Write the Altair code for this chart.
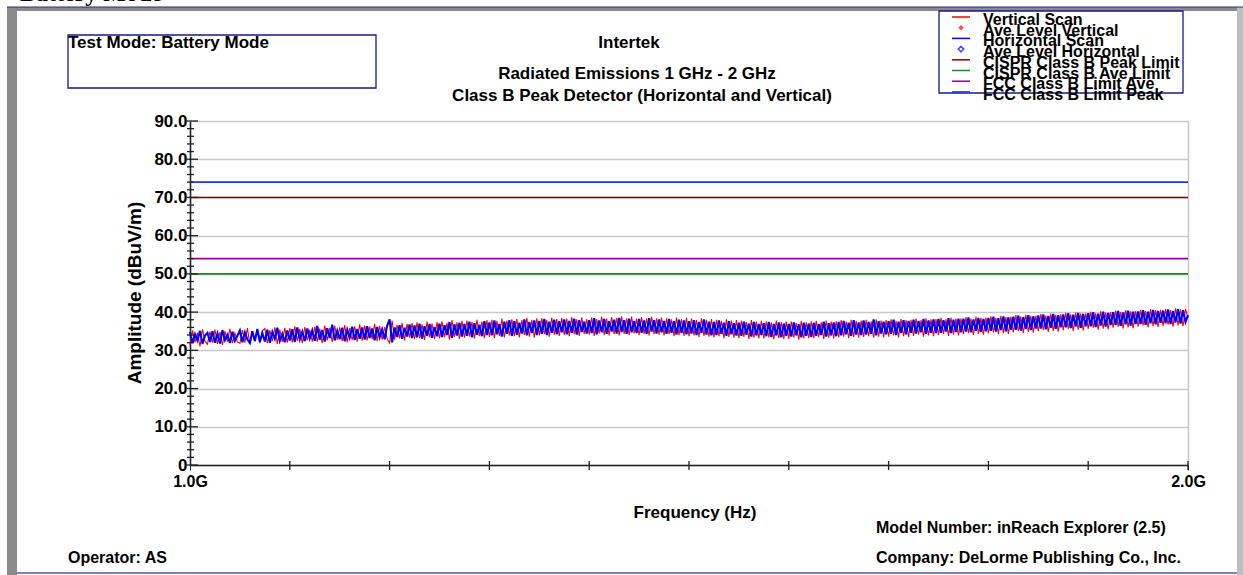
import altair as alt
import pandas as pd

# ---------------- data ----------------
freq_ghz = [round(1.0 + i * 0.0025, 4) for i in range(401)]  # sweep 1 GHz - 2 GHz

vertical_scan = [
    31.3, 35.2, 32.1, 34.6, 31.0, 35.5, 32.4, 31.6, 34.9, 32.0,
    35.4, 31.7, 34.8, 31.4, 35.0, 32.3, 35.6, 31.9, 34.5, 32.2,
    31.8, 35.3, 32.0, 35.8, 31.6, 34.9, 32.5, 35.5, 31.9, 35.1,
    35.7, 31.9, 35.2, 32.4, 36.0, 31.7, 35.4, 32.2, 35.9, 32.0,
    35.8, 32.1, 36.3, 32.5, 35.6, 31.9, 36.1, 32.6, 35.4, 32.3,
    36.2, 32.3, 35.7, 31.9, 36.5, 32.6, 35.9, 32.2, 36.4, 32.8,
    36.0, 32.4, 36.6, 32.1, 35.8, 32.7, 36.3, 32.3, 36.8, 32.5,
    36.5, 32.6, 36.2, 32.9, 36.9, 32.4, 36.4, 32.8, 36.1, 33.0,
    31.9, 37.8, 32.8, 36.7, 33.1, 37.2, 32.6, 36.9, 33.3, 37.1,
    32.9, 37.3, 33.2, 36.8, 32.7, 37.5, 33.4, 37.0, 32.9, 37.4,
    33.1, 37.6, 33.4, 37.2, 32.8, 37.9, 33.5, 37.3, 33.0, 37.7,
    33.3, 37.8, 33.6, 37.4, 33.1, 38.0, 33.7, 37.5, 33.2, 37.9,
    33.5, 38.0, 33.2, 37.7, 33.8, 38.3, 33.4, 37.8, 33.9, 38.1,
    33.7, 38.2, 33.4, 37.9, 34.0, 38.5, 33.6, 38.0, 33.3, 38.4,
    33.9, 38.4, 34.2, 38.0, 33.6, 38.6, 34.1, 38.2, 33.8, 38.5,
    34.0, 38.3, 33.7, 38.7, 34.2, 38.1, 33.8, 38.6, 34.3, 38.2,
    34.1, 38.6, 33.8, 38.2, 34.4, 38.8, 34.0, 38.3, 33.9, 38.7,
    34.2, 38.5, 33.9, 38.9, 34.3, 38.4, 34.0, 38.8, 34.4, 38.3,
    34.0, 38.7, 34.3, 38.3, 33.9, 38.8, 34.2, 38.4, 34.1, 38.6,
    33.9, 38.4, 34.2, 38.1, 33.7, 38.6, 34.0, 38.2, 33.8, 38.5,
    33.7, 38.3, 33.9, 37.9, 33.5, 38.4, 33.8, 38.0, 33.6, 38.2,
    33.4, 38.0, 33.7, 37.7, 33.2, 38.1, 33.5, 37.8, 33.3, 37.9,
    33.2, 37.8, 33.5, 37.4, 33.0, 37.9, 33.3, 37.5, 33.1, 37.7,
    33.1, 37.6, 33.4, 37.3, 32.9, 37.8, 33.2, 37.4, 33.0, 37.5,
    33.0, 37.5, 33.3, 37.2, 32.8, 37.7, 33.1, 37.3, 33.2, 37.6,
    33.2, 37.7, 33.4, 37.3, 33.0, 37.8, 33.3, 37.5, 33.1, 37.6,
    33.4, 37.9, 33.6, 37.5, 33.2, 38.0, 33.5, 37.7, 33.3, 37.8,
    33.5, 38.0, 33.7, 37.6, 33.3, 38.1, 33.6, 37.8, 33.4, 37.9,
    33.6, 38.1, 33.9, 37.7, 33.4, 38.2, 33.7, 37.9, 33.5, 38.0,
    33.8, 38.3, 34.1, 37.9, 33.6, 38.4, 33.9, 38.1, 33.7, 38.2,
    34.0, 38.5, 34.3, 38.1, 33.8, 38.6, 34.1, 38.3, 33.9, 38.4,
    34.2, 38.7, 34.5, 38.3, 34.0, 38.8, 34.3, 38.5, 34.1, 38.6,
    34.4, 38.9, 34.7, 38.5, 34.2, 39.0, 34.5, 38.7, 34.3, 38.8,
    34.7, 39.2, 35.0, 38.8, 34.5, 39.3, 34.8, 39.0, 34.6, 39.1,
    35.0, 39.5, 35.3, 39.1, 34.8, 39.6, 35.1, 39.3, 34.9, 39.4,
    35.3, 39.8, 35.6, 39.4, 35.1, 39.9, 35.4, 39.6, 35.2, 39.7,
    35.6, 40.1, 35.9, 39.7, 35.4, 40.2, 35.7, 39.9, 35.5, 40.0,
    35.9, 40.4, 36.2, 40.0, 35.7, 40.5, 36.0, 40.2, 35.8, 40.3,
    36.2, 40.6, 36.5, 40.3, 36.0, 40.8, 36.3, 40.5, 36.1, 40.6,
    36.4, 40.8, 36.7, 40.5, 36.2, 41.0, 36.5, 40.7, 36.3, 40.8,
    38.4,
]

horizontal_scan = [
    34.8, 31.9, 34.2, 32.6, 35.1, 31.7, 33.9, 34.6, 32.2, 35.0,
    32.0, 34.4, 31.8, 35.3, 32.7, 34.1, 31.9, 34.9, 32.5, 33.8,
    35.2, 32.1, 34.7, 32.8, 31.9, 35.0, 32.4, 35.6, 32.2, 34.5,
    32.3, 35.4, 32.0, 34.8, 33.0, 35.9, 32.5, 34.3, 32.1, 35.2,
    32.6, 35.5, 32.2, 36.0, 32.9, 34.9, 32.4, 35.7, 33.1, 35.2,
    32.5, 36.4, 32.8, 35.3, 32.3, 35.8, 33.2, 36.7, 32.6, 35.1,
    32.9, 35.9, 32.4, 35.4, 33.3, 36.2, 32.7, 35.6, 33.0, 36.0,
    32.8, 36.3, 33.2, 35.7, 32.6, 36.1, 33.4, 35.5, 32.9, 36.4,
    38.1, 32.1, 36.0, 33.5, 36.6, 33.0, 35.9, 33.6, 36.8, 33.2,
    36.5, 33.4, 37.0, 33.1, 36.3, 33.8, 36.9, 33.3, 36.1, 33.7,
    37.0, 33.5, 36.6, 34.0, 37.4, 33.3, 36.8, 33.9, 37.2, 33.6,
    36.9, 33.8, 37.5, 33.4, 37.1, 34.1, 36.7, 33.7, 37.6, 34.0,
    37.3, 33.9, 37.8, 34.2, 36.9, 33.6, 37.5, 34.3, 37.9, 33.8,
    37.6, 34.1, 37.2, 34.4, 38.1, 33.9, 37.4, 34.5, 37.8, 34.0,
    37.7, 34.3, 38.2, 34.0, 37.5, 34.6, 38.0, 34.2, 37.6, 34.7,
    38.1, 34.2, 37.7, 34.6, 38.3, 34.1, 37.9, 34.8, 37.5, 34.4,
    37.9, 34.5, 38.4, 34.2, 37.8, 34.7, 38.2, 34.3, 37.6, 34.9,
    38.0, 34.4, 38.5, 34.8, 37.9, 34.3, 38.3, 34.7, 37.7, 34.5,
    38.2, 34.6, 37.8, 34.3, 38.4, 34.9, 37.9, 34.4, 38.1, 34.7,
    37.7, 34.3, 38.2, 34.6, 37.6, 34.1, 38.0, 34.5, 37.8, 34.2,
    37.6, 34.4, 37.9, 34.0, 37.4, 34.5, 38.1, 34.1, 37.5, 33.9,
    37.4, 34.0, 37.8, 34.3, 37.2, 33.8, 37.6, 34.2, 37.1, 33.9,
    37.2, 33.8, 37.5, 34.1, 37.0, 33.6, 37.4, 33.9, 36.9, 34.0,
    37.1, 33.7, 37.4, 33.5, 36.9, 33.9, 37.3, 33.4, 37.0, 33.8,
    36.9, 33.6, 37.3, 33.9, 36.8, 33.4, 37.2, 33.8, 37.0, 33.5,
    37.2, 33.8, 36.9, 34.0, 37.5, 33.6, 37.1, 33.9, 37.3, 33.7,
    37.4, 33.9, 37.7, 34.2, 37.2, 33.8, 37.9, 34.1, 37.3, 34.0,
    37.8, 34.1, 37.4, 34.3, 38.1, 33.9, 37.6, 34.4, 37.5, 34.2,
    37.6, 34.3, 38.0, 34.0, 37.5, 34.5, 37.9, 34.2, 37.7, 34.6,
    38.0, 34.4, 37.7, 34.7, 38.2, 34.3, 37.8, 34.6, 38.1, 34.5,
    38.2, 34.6, 37.9, 34.9, 38.4, 34.5, 38.0, 34.8, 38.3, 34.7,
    38.3, 34.9, 38.6, 34.7, 38.1, 35.1, 38.5, 34.8, 38.2, 35.0,
    38.5, 35.1, 38.8, 34.9, 38.4, 35.3, 38.9, 35.0, 38.6, 35.4,
    38.8, 35.4, 39.1, 35.2, 38.7, 35.6, 39.2, 35.3, 38.9, 35.7,
    39.1, 35.7, 39.4, 35.5, 39.0, 35.9, 39.5, 35.6, 39.2, 36.0,
    39.4, 36.0, 39.7, 35.8, 39.3, 36.2, 39.8, 35.9, 39.5, 36.3,
    39.7, 36.3, 40.0, 36.1, 39.6, 36.5, 40.1, 36.2, 39.8, 36.6,
    40.0, 36.6, 40.3, 36.4, 39.9, 36.8, 40.4, 36.5, 40.1, 36.9,
    40.2, 36.9, 40.5, 36.7, 40.1, 37.1, 40.6, 36.8, 40.3, 37.2,
    40.4, 37.1, 40.7, 36.9, 40.3, 37.3, 40.8, 37.0, 40.5, 37.4,
    39.2,
]

limit_names = ["FCC Class B Limit Peak", "CISPR Class B Peak Limit",
               "FCC Class B Limit Ave", "CISPR Class B Ave Limit"]
limit_values = [74, 70, 54, 50]
limit_colors = ["#2233EE", "#8B0000", "#990099", "#1E8B1E"]

y_major = [0, 10, 20, 30, 40, 50, 60, 70, 80, 90]
y_minor = [v for v in range(0, 91, 2) if v % 10 != 0]
x_minor = [1.1, 1.2, 1.3, 1.4, 1.5, 1.6, 1.7, 1.8, 1.9, 2.0]

legend_labels = ["Vertical Scan", "Ave Level Vertical", "Horizontal Scan",
                 "Ave Level Horizontal", "CISPR Class B Peak Limit",
                 "CISPR Class B Ave Limit", "FCC Class B Limit Ave",
                 "FCC Class B Limit Peak"]
legend_symbols = ["line", "diamond", "line", "hollow", "line", "line", "line", "line"]
legend_colors = ["#FF0000", "#FF0000", "#0000FF", "#0000FF",
                 "#8B0000", "#1E8B1E", "#990099", "#2233EE"]

# ---------------- layout ----------------
L, T = 190, 121          # plot-area origin in page pixels
W, H = 998, 344          # plot-area size
FONT = "Liberation Sans"

one = pd.DataFrame({"k": [0]})


def px(X):
    return X - L


def py(Y):
    return Y - T


def text(s, X, Y, size=16, align="left", baseline="alphabetic",
         font=FONT, weight="bold", angle=0, color="black"):
    return alt.Chart(one).mark_text(
        text=s, align=align, baseline=baseline, font=font, fontSize=size,
        fontWeight=weight, angle=angle, color=color
    ).encode(x=alt.value(px(X)), y=alt.value(py(Y)))


def rect(X1, Y1, X2, Y2, fill=None, stroke=None, sw=1.0):
    kw = {}
    if fill is not None:
        kw["fill"] = fill
    else:
        kw["fillOpacity"] = 0
    if stroke is not None:
        kw["stroke"] = stroke
        kw["strokeWidth"] = sw
    return alt.Chart(one).mark_rect(**kw).encode(
        x=alt.value(px(X1)), x2=alt.value(px(X2)),
        y=alt.value(py(Y1)), y2=alt.value(py(Y2)))


def hline(X1, X2, Y, color, sw=1.5):
    return alt.Chart(one).mark_rule(color=color, strokeWidth=sw).encode(
        x=alt.value(px(X1)), x2=alt.value(px(X2)), y=alt.value(py(Y)))


xscale = alt.Scale(domain=[1.0, 2.0], nice=False, zero=False)
yscale = alt.Scale(domain=[0, 90], nice=False)

xaxis = alt.Axis(values=[1.0, 2.0], title=None,
                 labelExpr="format(datum.value, '.1f') + 'G'",
                 labelFont=FONT, labelFontSize=16, labelFontWeight="bold",
                 labelColor="black", labelPadding=3, labelFlush=False,
                 tickSize=5, tickColor="#222", domainColor="#222",
                 domainWidth=1.5, grid=True, gridColor="#C8C8C8", gridWidth=1.5)
yaxis = alt.Axis(values=y_major, title=None,
                 labelExpr="datum.value == 0 ? '0' : format(datum.value, '.1f')",
                 labelFont=FONT, labelFontSize=17, labelFontWeight="bold",
                 labelColor="black", labelPadding=3, ticks=False,
                 domainColor="#222", domainWidth=1.5,
                 grid=True, gridColor="#C8C8C8", gridWidth=1.5)

scan_v = pd.DataFrame({"freq": freq_ghz, "level": vertical_scan})
scan_h = pd.DataFrame({"freq": freq_ghz, "level": horizontal_scan})
limits = pd.DataFrame({"name": limit_names, "value": limit_values, "color": limit_colors})

enc_x = alt.X("freq:Q", scale=xscale, axis=xaxis)
enc_y = alt.Y("level:Q", scale=yscale, axis=yaxis)

red = alt.Chart(scan_v).mark_line(color="#FF0000", strokeWidth=1.1).encode(x=enc_x, y=enc_y)
blue = alt.Chart(scan_h).mark_line(color="#0000FF", strokeWidth=2.1).encode(x=enc_x, y=enc_y)

limit_layer = alt.Chart(limits).mark_rule(strokeWidth=1.6).encode(
    y=alt.Y("value:Q", scale=yscale, axis=yaxis),
    x=alt.value(0), x2=alt.value(W),
    color=alt.Color("color:N", scale=None))

ymaj = alt.Chart(pd.DataFrame({"level": y_major})).mark_rule(color="#222", strokeWidth=1.3).encode(
    y=alt.Y("level:Q", scale=yscale, axis=yaxis), x=alt.value(-3), x2=alt.value(8))
ymin = alt.Chart(pd.DataFrame({"level": y_minor})).mark_rule(color="#222", strokeWidth=1.3).encode(
    y=alt.Y("level:Q", scale=yscale, axis=yaxis), x=alt.value(-3), x2=alt.value(4))
xmin = alt.Chart(pd.DataFrame({"freq": x_minor})).mark_rule(color="#222", strokeWidth=1.3).encode(
    x=alt.X("freq:Q", scale=xscale, axis=xaxis), y=alt.value(H - 4), y2=alt.value(H + 5))

layers = [limit_layer, red, blue, ymaj, ymin, xmin]

# frame
layers += [
    rect(7, 7, 1243, 11, fill="#8A8A8A"),
    rect(7, 7, 17, 575, fill="#8A8A8A"),
    rect(1237, 7, 1243, 575, fill="#BDBDBD"),
    hline(7, 1243, 7, "#2A2A88", 1),
    hline(17, 1237, 573, "#5555AA", 1.5),
    text("Battery Mode", 20, 1, size=24, font="Liberation Serif"),
]

# header texts
layers += [
    rect(68, 35, 376, 88, stroke="#1A1A88", sw=1.3),
    text("Test Mode: Battery Mode", 68, 48, size=17),
    text("Intertek", 629, 48, size=17, align="center"),
    text("Radiated Emissions 1 GHz - 2 GHz", 637, 79, size=17, align="center"),
    text("Class B Peak Detector (Horizontal and Vertical)", 642, 101, size=17, align="center"),
]

# legend
layers.append(rect(939, 11, 1183, 93, stroke="#1A1A88", sw=1.3))
for i, (lab, sym, col) in enumerate(zip(legend_labels, legend_symbols, legend_colors)):
    ys = 17 + i * 10.7
    if sym == "line":
        layers.append(hline(952, 970, ys, col, 1.5))
    else:
        filled = sym == "diamond"
        layers.append(alt.Chart(one).mark_point(
            shape="diamond", size=30, filled=filled, color=col,
            strokeWidth=1.5).encode(x=alt.value(px(961)), y=alt.value(py(ys))))
    layers.append(text(lab, 983, ys + 8, size=16))

# axis titles and footer
layers += [
    text("Amplitude (dBuV/m)", 135, 293, size=19, align="center", baseline="middle", angle=270),
    text("Frequency (Hz)", 695, 518, size=17, align="center"),
    text("Model Number: inReach Explorer (2.5)", 876, 533, size=16),
    text("Company: DeLorme Publishing Co., Inc.", 876, 563, size=16),
    text("Operator: AS", 68, 563, size=16),
]

chart = alt.layer(*layers).properties(
    width=W, height=H,
    autosize=alt.AutoSizeParams(type="none"),
    padding={"left": L, "top": T, "right": 1243 - L - W, "bottom": 575 - T - H},
    background="white",
).configure_view(stroke=None)

chart.save("out.html", embed_options={"renderer": "svg", "actions": False})
